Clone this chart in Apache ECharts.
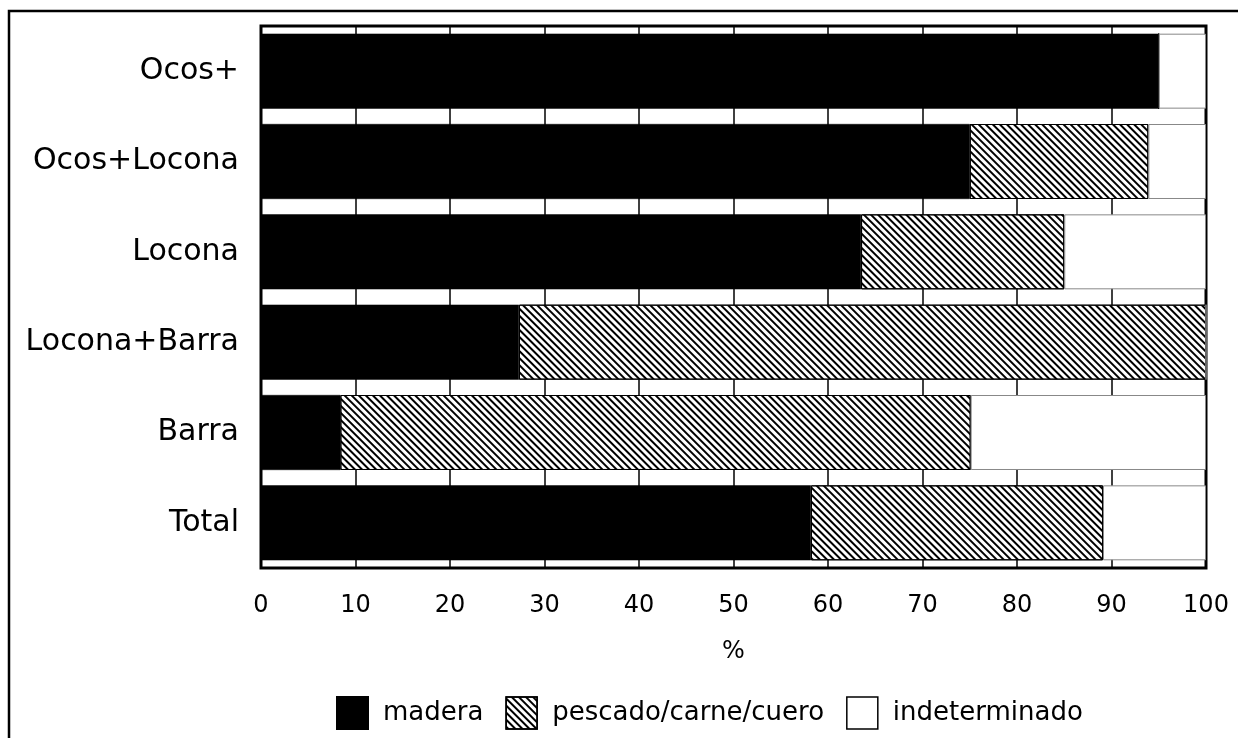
<!DOCTYPE html>
<html>
<head>
<meta charset="utf-8">
<script src="https://cdn.jsdelivr.net/npm/echarts@6/dist/echarts.min.js"></script>
<style>
html, body { margin: 0; padding: 0; background: #fff; }
#chart { width: 1238px; height: 738px; }
</style>
</head>
<body>
<div id="chart"></div>
<script>
var categories = ['Ocos+', 'Ocos+Locona', 'Locona', 'Locona+Barra', 'Barra', 'Total'];
var madera = [95, 75, 63.5, 27.3, 8.4, 58.2];
var pescado = [0, 18.9, 21.5, 72.7, 66.7, 30.9];
var indeterminado = [5, 6.1, 15, 0, 24.9, 10.9];
var xTicks = [0, 10, 20, 30, 40, 50, 60, 70, 80, 90, 100];

var fontName = '"DejaVu Sans", sans-serif';
var hatch = {
	symbol: 'rect',
	symbolSize: 1,
	dashArrayX: [1, 0],
	dashArrayY: [1.6, 2.4],
	rotation: Math.PI / 4,
	color: '#000'
};

var chart = echarts.init(document.getElementById('chart'), null, { renderer: 'canvas' });

chart.setOption({
	animation: false,
	backgroundColor: '#fff',
	textStyle: { fontFamily: fontName, color: '#000' },
	// outer frame of the scanned figure
	graphic: [{
		type: 'rect',
		shape: { x: 9, y: 11, width: 1300, height: 800 },
		style: { fill: 'none', stroke: '#000', lineWidth: 2.5 },
		silent: true
	}],
	grid: {
		left: 261,
		right: 32,
		top: 26,
		bottom: 170,
		show: true,
		borderColor: '#000',
		borderWidth: 3,
		backgroundColor: '#fff'
	},
	legend: {
		left: 331,
		top: 691,
		itemWidth: 31,
		itemHeight: 32,
		itemGap: 22,
		icon: 'rect',
		textStyle: { fontSize: 26, fontFamily: fontName, color: '#000', padding: [0, 0, 0, 10] },
		data: [
			{ name: 'madera' },
			{ name: 'pescado/carne/cuero', itemStyle: { borderColor: '#000', borderWidth: 1.5 } },
			{ name: 'indeterminado', itemStyle: { borderColor: '#000', borderWidth: 1.5 } }
		]
	},
	xAxis: {
		type: 'value',
		min: 0,
		max: 100,
		interval: 10,
		name: '%',
		nameLocation: 'middle',
		nameGap: 72,
		nameTextStyle: { fontSize: 24, color: '#000', fontFamily: fontName },
		axisLine: { show: false },
		axisTick: { show: false },
		axisLabel: {
			fontSize: 24,
			color: '#000',
			margin: 26,
			formatter: function(v) {
				return xTicks.indexOf(v) >= 0 ? String(v) : '';
			}
		},
		splitLine: { show: true, lineStyle: { color: '#000', width: 1.5 } }
	},
	yAxis: {
		type: 'category',
		data: categories,
		inverse: true,
		axisLine: { show: false },
		axisTick: { show: false },
		axisLabel: { fontSize: 30, color: '#000', margin: 22 },
		splitLine: { show: false }
	},
	series: [{
		name: 'madera',
		type: 'bar',
		stack: 'all',
		barCategoryGap: '17%',
		data: madera,
		itemStyle: { color: '#000', borderColor: '#000', borderWidth: 0.5 }
	}, {
		name: 'pescado/carne/cuero',
		type: 'bar',
		stack: 'all',
		data: pescado,
		itemStyle: { color: '#fff', decal: hatch, borderColor: '#000', borderWidth: 1 }
	}, {
		name: 'indeterminado',
		type: 'bar',
		stack: 'all',
		data: indeterminado,
		itemStyle: { color: '#fff', borderColor: '#888', borderWidth: 1 }
	}]
});
</script>
</body>
</html>
